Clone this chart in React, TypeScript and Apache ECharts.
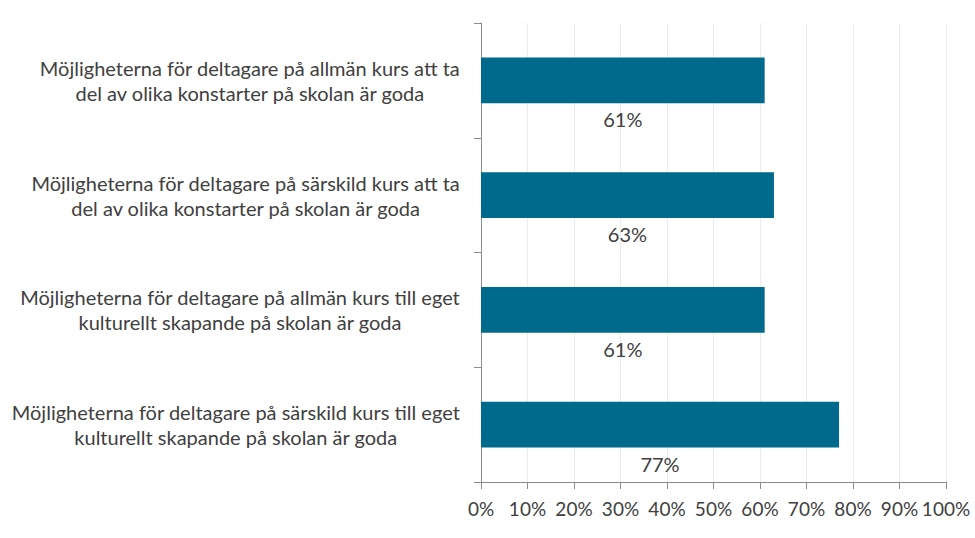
import React, { useEffect, useRef } from "react";
import * as echarts from "echarts";

const categories: string[] = [
  "Möjligheterna för deltagare på allmän kurs att ta\ndel av olika konstarter på skolan är goda",
  "Möjligheterna för deltagare på särskild kurs att ta\ndel av olika konstarter på skolan är goda",
  "Möjligheterna för deltagare på allmän kurs till eget\nkulturellt skapande på skolan är goda",
  "Möjligheterna för deltagare på särskild kurs till eget\nkulturellt skapande på skolan är goda",
];
const values: number[] = [61, 63, 61, 77];
const xTicks = { min: 0, max: 100, interval: 10 };

const FONT = "Lato, 'Open Sans', sans-serif";
const TEXT = "#404040";
const AXIS = "#8c8c8c";

export default function App() {
  const ref = useRef<HTMLDivElement>(null);
  useEffect(() => {
    if (!ref.current) return;
    const chart = echarts.init(ref.current, null, { renderer: "svg" });
    chart.setOption({
      animation: false,
      backgroundColor: "#ffffff",
      grid: { left: 481, right: 29, top: 23, bottom: 56, containLabel: false },
      xAxis: {
        type: "value",
        min: xTicks.min,
        max: xTicks.max,
        interval: xTicks.interval,
        axisLine: { show: true, lineStyle: { color: AXIS, width: 1 } },
        axisTick: { show: true, length: 7, lineStyle: { color: AXIS } },
        splitLine: { show: true, lineStyle: { color: "#ebebeb", width: 1 } },
        axisLabel: {
          formatter: "{value}%",
          color: TEXT,
          fontFamily: FONT,
          fontSize: 19,
          margin: 17,
        },
      },
      yAxis: {
        type: "category",
        inverse: true,
        data: categories,
        axisLine: { show: true, lineStyle: { color: AXIS, width: 1 } },
        axisTick: { show: true, length: 7, alignWithLabel: false, lineStyle: { color: AXIS } },
        splitLine: { show: false },
        axisLabel: {
          color: TEXT,
          fontFamily: FONT,
          fontSize: 20,
          margin: 21,
          lineHeight: 25,
          formatter: (v: string) =>
            v
              .split("\n")
              .map((l) => `{c|${l}}`)
              .join("\n"),
          rich: {
            c: { align: "center", color: TEXT, fontFamily: FONT, fontSize: 20, lineHeight: 25 },
          },
        },
      },
      series: [
        {
          type: "bar",
          data: values,
          barCategoryGap: "60%",
          itemStyle: { color: "#006a8c" },
          label: {
            show: true,
            position: "bottom",
            distance: 6,
            formatter: "{c}%",
            color: TEXT,
            fontFamily: FONT,
            fontSize: 20,
          },
        },
      ],
    });
    return () => chart.dispose();
  }, []);
  return (
    <div
      ref={ref}
      style={{ position: "fixed", left: 0, top: 0, width: 975, height: 538 }}
    />
  );
}
